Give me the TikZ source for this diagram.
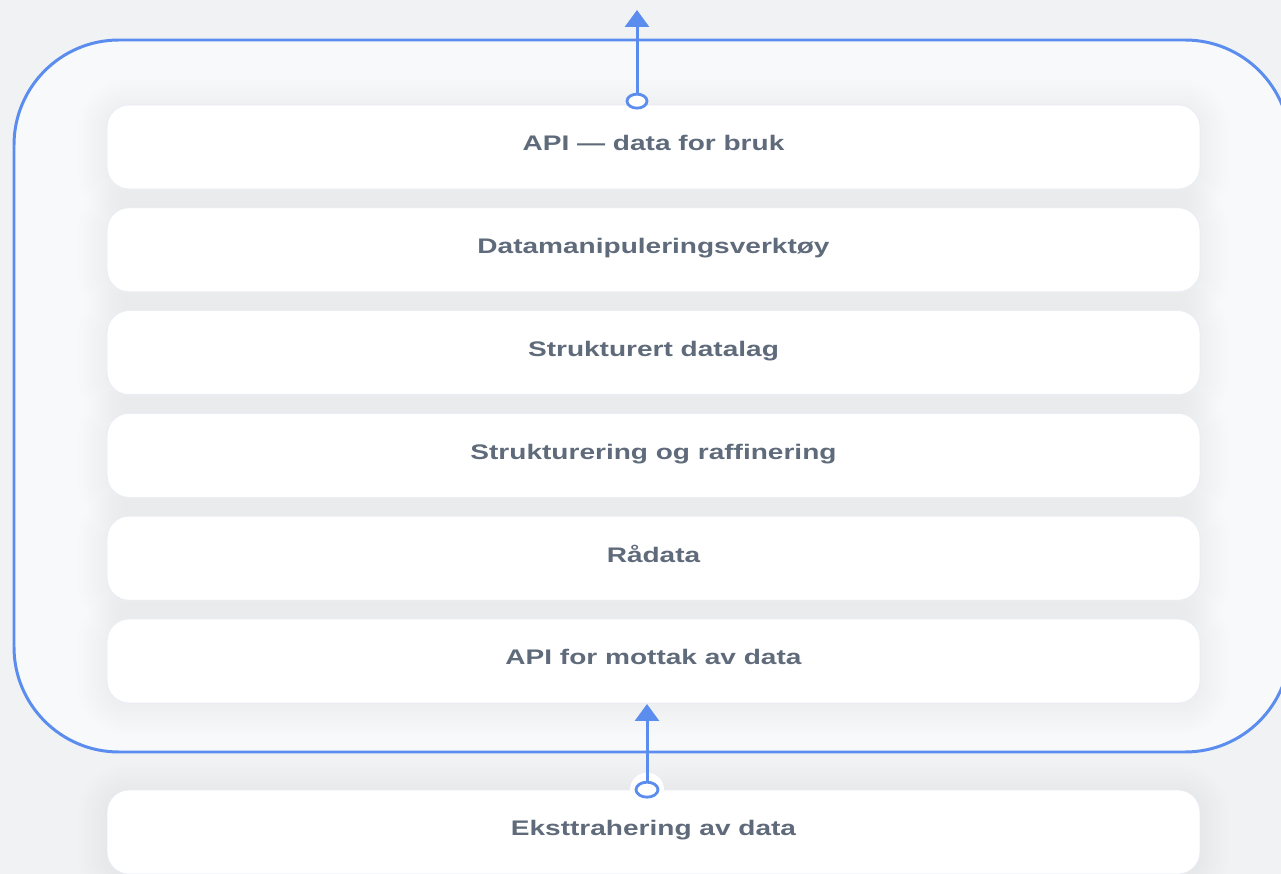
\documentclass[tikz,border=0pt]{standalone}
\usepackage{fontspec}
\setmainfont{Liberation Sans}[BoldFeatures={FakeStretch=1.33}]
\usetikzlibrary{arrows.meta}

\definecolor{flowblue}{HTML}{5B8DEF}
\definecolor{labelgray}{HTML}{5F6B7B}
\definecolor{pagegray}{HTML}{F1F2F4}
\definecolor{framefill}{HTML}{F8F9FB}
\definecolor{boxline}{HTML}{E9ECF4}

\pgfdeclarelayer{back}
\pgfdeclarelayer{halo}
\pgfsetlayers{back,halo,main}

\tikzset{
	layerbox/.style={draw=boxline, fill=white, rounded corners=0.44cm,
		minimum width=21.86cm, minimum height=1.68cm, text=labelgray,
		text height=8.6pt, text depth=4.1pt,
		font=\bfseries\fontsize{12}{14}\selectfont},
	glow/.style={fill=black!80!blue, opacity=0.0045},
	flow/.style={flowblue, line width=1.7pt, -{Triangle[width=0.48cm,length=0.34cm]}},
	port/.style={draw=flowblue, line width=1.6pt, fill=white}
}

\begin{document}
\begin{tikzpicture}[x=0.02cm,y=-0.02cm]
	\useasboundingbox (0,0) rectangle (1281,874);
	\begin{pgfonlayer}{back}
		\fill[pagegray] (0,0) rectangle (1281,874);
		% outer frame
		\draw[flowblue, line width=1.7pt, fill=framefill, rounded corners=2.1cm]
			(14,40) rectangle (1290,752);
	\end{pgfonlayer}
	% layers
	\foreach \i/\txt in {1/API \textemdash{} data for bruk, 2/Datamanipuleringsverktøy,
		3/Strukturert datalag, 4/Strukturering og raffinering, 5/Rådata,
		6/API for mottak av data}
		\node[layerbox] (layer\i) at (653.5,{44.2+102.8*\i}) {\txt};
	\node[layerbox] (extract) at (653.5,832) {Eksttrahering av data};
	% soft shadows
	\begin{pgfonlayer}{halo}
		\foreach \n in {layer1,layer2,layer3,layer4,layer5,layer6,extract}
			\foreach \r in {2,5,...,29}
				\fill[glow, rounded corners={(22+\r)*0.02cm}]
					([shift={(-\r,{3-\r})}]\n.north west) rectangle ([shift={(\r,{3+\r})}]\n.south east);
	\end{pgfonlayer}
	% data out
	\coordinate (outtip) at (637,10);
	\draw[flow] ([yshift=2pt]layer1.north -| outtip) -- (outtip);
	\draw[port] ([yshift=2pt]layer1.north -| outtip) ellipse [x radius=10, y radius=7];
	% data in
	\coordinate (intip) at (647,704);
	\fill[white] (extract.north -| intip) circle [radius=17];
	\draw[flow] (extract.north -| intip) -- (intip);
	\draw[port] (extract.north -| intip) ellipse [x radius=11, y radius=7.5];
\end{tikzpicture}
\end{document}
